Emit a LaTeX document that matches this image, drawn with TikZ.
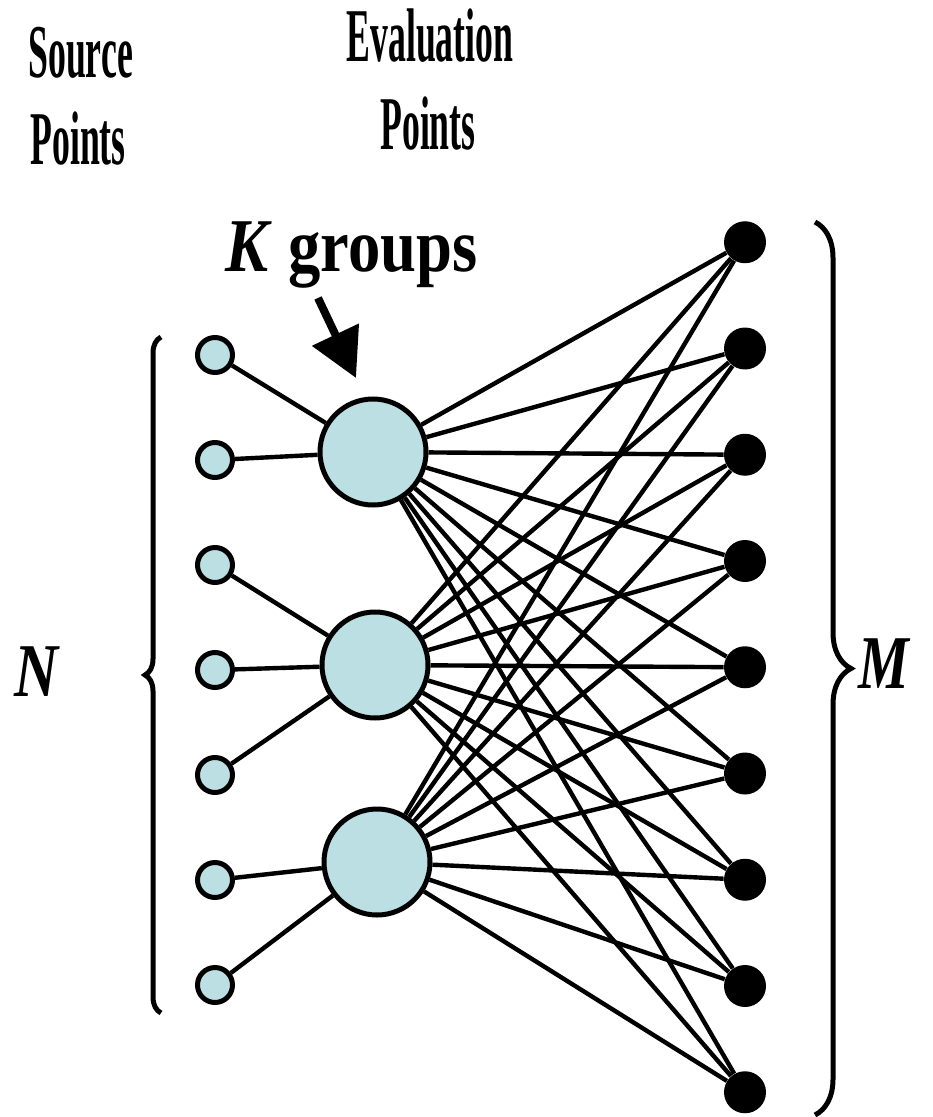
\documentclass[tikz,border=0pt]{standalone}
\usepackage{fontspec,graphicx}
\setmainfont{Liberation Serif}
\usetikzlibrary{arrows.meta,decorations.pathreplacing}
\definecolor{ptfill}{HTML}{BBDFE3}
\newcommand{\narrow}[2]{\scalebox{#1}[1]{#2}}
\tikzset{
  src/.style={circle,draw,line width=2.5pt,fill=ptfill,minimum size=17.5pt,inner sep=0pt},
  grp/.style={circle,draw,line width=2.5pt,fill=ptfill,minimum size=53pt,inner sep=0pt},
  evl/.style={circle,fill=black,minimum size=21pt,inner sep=0pt},
  lbl/.style={inner sep=0pt,font=\fontsize{38}{44}\selectfont\bfseries},
  ln/.style={line width=2.2pt},
  brc/.style={decorate,line width=2.5pt},
}
\begin{document}
\begin{tikzpicture}[x=0.5pt,y=-0.5pt]
\useasboundingbox (0,0) rectangle (932,1117);
% labels
\node[lbl,anchor=base west] (srcA) at (28,78) {\narrow{0.47}{Source}};
\node[lbl,anchor=base west] (srcB) at (30,165) {\narrow{0.47}{Points}};
\node[lbl,anchor=base] (evA) at (430,62) {\narrow{0.47}{Evaluation}};
\node[lbl,anchor=base] (evB) at (428,150) {\narrow{0.47}{Points}};
\node[lbl,anchor=base west] (kgr) at (225,272) {\narrow{0.85}{\textit{K} groups}};
\node[lbl] (nlab) at (37,672) {\narrow{0.8}{\textit{N}}};
\node[lbl] (mlab) at (885,664) {\narrow{0.75}{\textit{M}}};
% points
\foreach \i in {1,...,7} \node[src] (s\i) at (215,{250+105*\i}) {};
\foreach \i in {1,...,9} \node[evl] (e\i) at (745,{136+106.25*\i}) {};
\node[grp] (g1) at (373,452) {};
\node[grp] (g2) at (375,665) {};
\node[grp] (g3) at (377,862) {};
% connections
\foreach \s/\g in {1/1,2/1,3/2,4/2,5/2,6/3,7/3} \draw[ln] (s\s) -- (g\g);
\foreach \g in {1,2,3} \foreach \e in {1,...,9} \draw[ln] (g\g) -- (e\e);
% arrow to groups
\coordinate (ktail) at (318,298);
\coordinate (khead) at (356,378);
\draw[line width=4pt,-{Triangle[length=24pt,width=25pt]}] (ktail) -- (khead);
% braces
\draw[brc,decoration={brace,amplitude=8pt}] (161,1013) -- (161,337);
\draw[brc,decoration={brace,amplitude=18pt}] (815,222) -- (815,1115);
\end{tikzpicture}
\end{document}
